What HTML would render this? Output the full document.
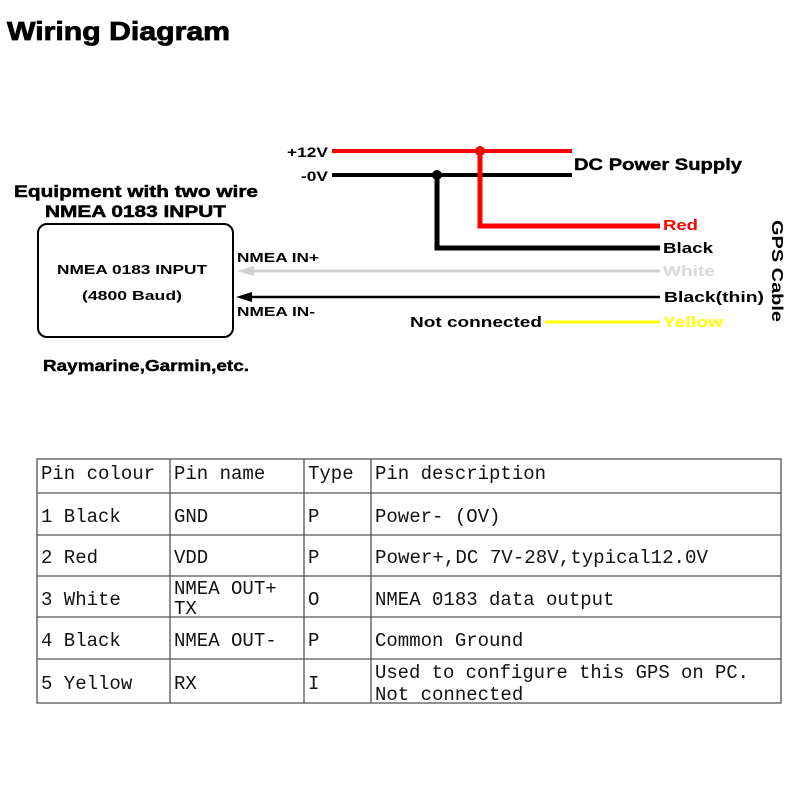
<!DOCTYPE html>
<html><head><meta charset="utf-8"><style>
html,body{margin:0;padding:0;background:#fff;}
svg{display:block}
.b{font-family:"Liberation Sans",sans-serif;font-weight:bold;}
.m{font-family:"Liberation Mono","Noto Sans CJK SC",monospace;font-size:19px;fill:#111;}
</style></head><body>
<svg width="800" height="800" viewBox="0 0 800 800" xmlns="http://www.w3.org/2000/svg">
<text class="b" x="7" y="40" font-size="26" textLength="223" lengthAdjust="spacingAndGlyphs" stroke="#000" stroke-width="0.8">Wiring Diagram</text>

<text class="b" x="14" y="197" font-size="17" textLength="244" lengthAdjust="spacingAndGlyphs" stroke="#000" stroke-width="0.5">Equipment with two wire</text>
<text class="b" x="45" y="217" font-size="17" textLength="181" lengthAdjust="spacingAndGlyphs" stroke="#000" stroke-width="0.5">NMEA 0183 INPUT</text>
<rect x="38" y="224" width="195" height="113" rx="9" fill="none" stroke="#000" stroke-width="2"/>
<text class="b" x="57" y="274" font-size="13" textLength="150" lengthAdjust="spacingAndGlyphs">NMEA 0183 INPUT</text>
<text class="b" x="82" y="300" font-size="13" textLength="100" lengthAdjust="spacingAndGlyphs">(4800 Baud)</text>
<text class="b" x="43" y="371" font-size="16" textLength="206" lengthAdjust="spacingAndGlyphs" stroke="#000" stroke-width="0.4">Raymarine,Garmin,etc.</text>

<text class="b" x="287" y="157" font-size="14" textLength="41" lengthAdjust="spacingAndGlyphs">+12V</text>
<text class="b" x="301" y="181" font-size="14" textLength="27" lengthAdjust="spacingAndGlyphs">-0V</text>
<line x1="332" y1="151" x2="572" y2="151" stroke="#f00" stroke-width="4"/>
<line x1="332" y1="175" x2="572" y2="175" stroke="#000" stroke-width="4"/>
<polyline points="480,151 480,226 660,226" fill="none" stroke="#f00" stroke-width="5"/>
<polyline points="437,175 437,248 660,248" fill="none" stroke="#000" stroke-width="5"/>
<circle cx="480" cy="151" r="5" fill="#f00"/>
<circle cx="437" cy="175" r="5" fill="#000"/>
<text class="b" x="574" y="170" font-size="17" textLength="168" lengthAdjust="spacingAndGlyphs" stroke="#000" stroke-width="0.4">DC Power Supply</text>

<line x1="660" y1="271" x2="250" y2="271" stroke="#d0d0d0" stroke-width="3"/>
<polygon points="237,271 254,266 254,276" fill="#d0d0d0"/>
<line x1="660" y1="297" x2="248" y2="297" stroke="#000" stroke-width="2.5"/>
<polygon points="236,297 252,292 252,302" fill="#000"/>
<line x1="545" y1="322" x2="660" y2="322" stroke="#ffff00" stroke-width="3"/>
<text class="b" x="237" y="262" font-size="13" textLength="82" lengthAdjust="spacingAndGlyphs">NMEA IN+</text>
<text class="b" x="237" y="316" font-size="13" textLength="78" lengthAdjust="spacingAndGlyphs">NMEA IN-</text>
<text class="b" x="410" y="327" font-size="15" textLength="132" lengthAdjust="spacingAndGlyphs">Not connected</text>
<text class="b" x="663" y="230" font-size="15" fill="#f00" textLength="35" lengthAdjust="spacingAndGlyphs">Red</text>
<text class="b" x="663" y="253" font-size="15" textLength="50" lengthAdjust="spacingAndGlyphs">Black</text>
<text class="b" x="663" y="276" font-size="15" fill="#d8d8d8" textLength="52" lengthAdjust="spacingAndGlyphs">White</text>
<text class="b" x="664" y="302" font-size="15" textLength="100" lengthAdjust="spacingAndGlyphs">Black(thin)</text>
<text class="b" x="663" y="327" font-size="15" fill="#ffff00" textLength="60" lengthAdjust="spacingAndGlyphs">Yellow</text>
<text class="b" x="772" y="220" font-size="16" transform="rotate(90 772 220)" textLength="102" lengthAdjust="spacingAndGlyphs">GPS Cable</text>

<g stroke="#555" stroke-width="1.3" fill="none">
<rect x="37" y="459" width="744" height="244"/>
<line x1="37" y1="493" x2="781" y2="493"/>
<line x1="37" y1="535" x2="781" y2="535"/>
<line x1="37" y1="576" x2="781" y2="576"/>
<line x1="37" y1="617" x2="781" y2="617"/>
<line x1="37" y1="659" x2="781" y2="659"/>
<line x1="170" y1="459" x2="170" y2="703"/>
<line x1="304" y1="459" x2="304" y2="703"/>
<line x1="371" y1="459" x2="371" y2="703"/>
</g>
<g class="m">
<text x="41" y="479">Pin colour</text>
<text x="174" y="479">Pin name</text>
<text x="308" y="479">Type</text>
<text x="375" y="479">Pin description</text>
<text x="41" y="522">1 Black</text>
<text x="174" y="522">GND</text>
<text x="308" y="522">P</text>
<text x="375" y="522">Power- (OV)</text>
<text x="41" y="563">2 Red</text>
<text x="174" y="563">VDD</text>
<text x="308" y="563">P</text>
<text x="375" y="563" textLength="333" lengthAdjust="spacingAndGlyphs">Power+,DC 7V-28V,typical12.0V</text>
<text x="41" y="605">3 White</text>
<text x="174" y="594">NMEA OUT+</text>
<text x="174" y="614">TX</text>
<text x="308" y="605">O</text>
<text x="375" y="605">NMEA 0183 data output</text>
<text x="41" y="646">4 Black</text>
<text x="174" y="646">NMEA OUT-</text>
<text x="308" y="646">P</text>
<text x="375" y="646">Common Ground</text>
<text x="41" y="689">5 Yellow</text>
<text x="174" y="689">RX</text>
<text x="308" y="689">I</text>
<text x="375" y="678" textLength="374" lengthAdjust="spacingAndGlyphs">Used to configure this GPS on PC.</text>
<text x="375" y="700">Not connected</text>
</g>
</svg>
</body></html>
